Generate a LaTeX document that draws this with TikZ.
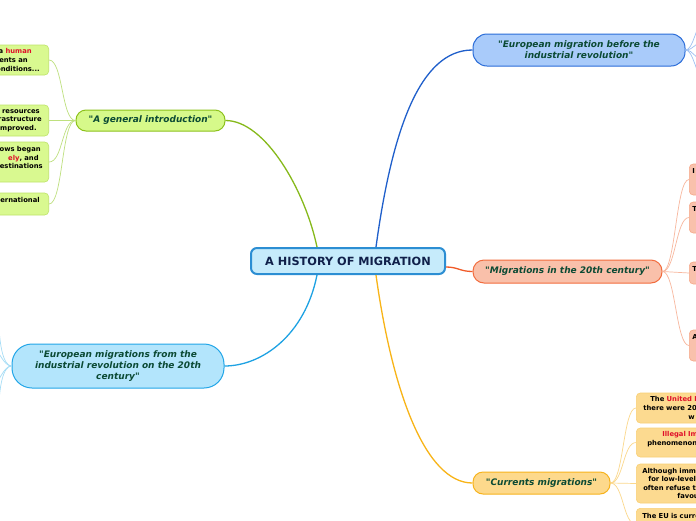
\documentclass[tikz,border=0pt]{standalone}
\usepackage{fontspec}
\setmainfont{DejaVu Sans}[Ligatures=TeXOff]
\definecolor{cfill}{HTML}{C6EBFB}
\definecolor{cdraw}{HTML}{2C8ED3}
\definecolor{ctext}{HTML}{10204A}
\definecolor{btext}{HTML}{0B4A34}
\definecolor{gfill}{HTML}{D6F98A}
\definecolor{gdraw}{HTML}{8DC21C}
\definecolor{gline}{HTML}{86B91A}
\definecolor{glfill}{HTML}{D9F990}
\definecolor{gldraw}{HTML}{BFE36A}
\definecolor{glline}{HTML}{BEE07E}
\definecolor{bfill}{HTML}{A9CBFA}
\definecolor{bdraw}{HTML}{2A6CD8}
\definecolor{bline}{HTML}{1F5FCB}
\definecolor{blline}{HTML}{9DC0F2}
\definecolor{sfill}{HTML}{F9C0AA}
\definecolor{sdraw}{HTML}{F26C3E}
\definecolor{sline}{HTML}{F05A28}
\definecolor{slfill}{HTML}{F9C1AC}
\definecolor{sldraw}{HTML}{F6A98A}
\definecolor{slline}{HTML}{F8B79E}
\definecolor{yfill}{HTML}{FDD98C}
\definecolor{ydraw}{HTML}{F7B31D}
\definecolor{yline}{HTML}{F8B418}
\definecolor{ylfill}{HTML}{FCDA90}
\definecolor{yldraw}{HTML}{F9CF74}
\definecolor{ylline}{HTML}{FBD88C}
\definecolor{lfill}{HTML}{B3E5FC}
\definecolor{ldraw}{HTML}{22A6E8}
\definecolor{lline}{HTML}{1EA2E3}
\definecolor{llline}{HTML}{A6DDF6}
\definecolor{hired}{HTML}{E0102A}
\newcommand\hi[1]{\textcolor{hired}{#1}}
\newcommand\gap[1]{\rule{#1}{0pt}}
\begin{document}
\begin{tikzpicture}[x=1pt,y=-1pt,
  root/.style={draw=cdraw, fill=cfill, line width=2pt, rounded corners=6pt,
    minimum width=194pt, minimum height=26pt, inner sep=0pt, text=ctext,
    font=\fontsize{11.3}{13}\selectfont\bfseries},
  topic/.style={line width=1pt, inner sep=0pt, text=btext, align=center,
    font=\fontsize{9}{11.2}\selectfont\bfseries\itshape},
  leaf/.style={line width=0.6pt, rounded corners=4pt, inner ysep=0pt,
    text=black, font=\fontsize{6.8}{8.6}\selectfont\bfseries},
  gleaf/.style={leaf, draw=gldraw, fill=glfill, anchor=east, align=right, text width=110pt},
  sleaf/.style={leaf, draw=sldraw, fill=slfill, anchor=west, align=left, text width=30pt, inner xsep=3pt},
  yleaf/.style={leaf, draw=yldraw, fill=ylfill, anchor=west, align=left, text width=110pt},
  main/.style={line width=1.3pt},
  twig/.style={line width=0.7pt}
]
\clip (0,0) rectangle (696,520);
\fill[white] (0,0) rectangle (696,520);

% root
\node[root] (root) at (348,261) {A HISTORY OF MIGRATION};

% topics
\node[topic, draw=gdraw, fill=gfill, minimum width=149pt, minimum height=21pt, rounded corners=10pt] (intro) at (150.5,120.5) {"A general introduction"};
\node[topic, draw=bdraw, fill=bfill, minimum width=212pt, minimum height=32pt, rounded corners=14pt] (before) at (579,50) {"European migration before the\\industrial revolution"};
\node[topic, draw=sdraw, fill=sfill, minimum width=189pt, minimum height=23pt, rounded corners=11pt] (m20) at (567.5,271.5) {"Migrations in the 20th century"};
\node[topic, draw=ydraw, fill=yfill, minimum width=137pt, minimum height=22pt, rounded corners=10pt] (curr) at (541.5,483) {"Currents migrations"};
\node[topic, draw=ldraw, fill=lfill, minimum width=212pt, minimum height=44pt, rounded corners=20pt] (euro) at (118,366) {"European migrations from the\\industrial revolution on the 20th\\century"};

% main connectors
\draw[main, gline] ([xshift=67pt]root.north west) .. controls (305,190) and (265,120.5) .. (intro.east);
\draw[main, bline] ([xshift=126pt]root.north west) .. controls (392,130) and (420,50) .. (before.west);
\draw[main, sline] ([yshift=-6pt]root.east) .. controls (458,267) and (460,271.5) .. (m20.west);
\draw[main, lline] ([xshift=67pt]root.south west) .. controls (305,335) and (262,366) .. (euro.east);
\draw[main, yline] ([xshift=126pt]root.south west) .. controls (392,390) and (425,483) .. (curr.west);

% green leaves (left)
\node[gleaf, minimum height=30pt, inner xsep=9pt] (g1) at (49,60) {a \hi{human}\gap{8pt}\\ ents an\gap{12pt}\\ onditions...};
\node[gleaf, minimum height=31pt, inner xsep=7pt] (g2) at (49,120.5) {resources\gap{2pt}\\ rastructure\\ improved.\gap{5pt}};
\node[gleaf, minimum height=40pt, inner xsep=6pt] (g3) at (49,162) {ows began\gap{2pt}\\ \hi{ely}, and\gap{4pt}\\ estinations\\ \mbox{}};
\node[gleaf, minimum height=22pt, inner xsep=9pt] (g4) at (49,204) {ernational\\ \mbox{}};
\foreach \n in {g1,g2,g3,g4}
  \draw[twig, glline] (intro.west) .. controls +(-14,0) and +(14,0) .. (\n.east);

% salmon leaves (right)
\node[sleaf, minimum height=31pt] (s1) at (689,179.5) {I\\ \mbox{}\\ \mbox{}};
\node[sleaf, minimum height=31pt] (s2) at (689,217.5) {T\\ \mbox{}\\ \mbox{}};
\node[sleaf, minimum height=22pt] (s3) at (689,273) {T\\ \mbox{}};
\node[sleaf, minimum height=31pt] (s4) at (689,345.5) {A\\ \mbox{}\\ \mbox{}};
\foreach \n in {s1,s2,s3,s4}
  \draw[twig, slline] (m20.east) .. controls +(13,0) and +(-13,0) .. (\n.west);

% yellow leaves (right)
\node[yleaf, minimum height=30pt, inner xsep=7pt] (y1) at (636,408) {\gap{7pt}The \hi{United N}\\ there were 20\\ \gap{45pt}w};
\node[yleaf, minimum height=29pt, inner xsep=11pt] (y2) at (636,442.5) {\gap{15pt}\hi{Illegal Im}\\ phenomenon,\\ \mbox{}};
\node[yleaf, minimum height=39pt, inner xsep=6pt] (y3) at (636,483.5) {Although immi\\ \gap{6pt}for low-level,\\ \gap{1pt}often refuse to\\ \gap{35pt}favou};
\node[yleaf, minimum height=32pt, inner xsep=6pt, anchor=north west, inner ysep=2pt] (y4) at (636,508) {The EU is curre\\ \mbox{}\\ \mbox{}};
\foreach \n in {y1,y2,y3,y4}
  \draw[twig, ylline] (curr.east) .. controls +(13,0) and +(-13,0) .. (\n.west);

% blue fan (off picture, right)
\coordinate (bo1) at (702,24);
\coordinate (bo2) at (702,42);
\coordinate (bo3) at (702,60);
\coordinate (bo4) at (702,76);
\foreach \n in {bo1,bo2,bo3,bo4}
  \draw[twig, blline] (before.east) .. controls +(8,0) and +(-6,0) .. (\n);

% light blue fan (off picture, left)
\coordinate (eo1) at (-1,322);
\coordinate (eo2) at (-5,350);
\coordinate (eo3) at (-5,383);
\coordinate (eo4) at (-1,408);
\draw[twig, llline] (euro.west) .. controls +(-9,0) and +(0,18) .. (eo1);
\draw[twig, llline] (euro.west) .. controls +(-8,0) and +(4,0) .. (eo2);
\draw[twig, llline] (euro.west) .. controls +(-8,0) and +(4,0) .. (eo3);
\draw[twig, llline] (euro.west) .. controls +(-9,0) and +(0,-18) .. (eo4);
\end{tikzpicture}
\end{document}
